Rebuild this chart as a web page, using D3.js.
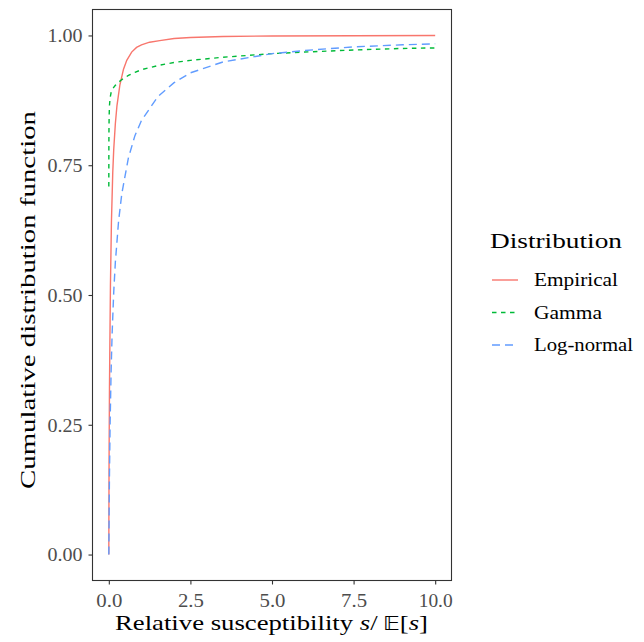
<!DOCTYPE html>
<html><head><meta charset="utf-8">
<script src="https://cdn.jsdelivr.net/npm/d3@7"></script>
<style>body{margin:0;background:#fff}svg{display:block}</style>
</head><body>
<script>
// ---- data ----
const seriesNames = ["Empirical", "Gamma", "Log-normal"];
const seriesColors = ["#F8766D", "#00BA38", "#619CFF"];
const seriesDash = [null, "4.5,4.5", "8,5"];

const empiricalS = [0, 0.002, 0.005, 0.01, 0.02, 0.03, 0.05, 0.08, 0.12, 0.15, 0.2, 0.25, 0.34, 0.45, 0.55, 0.7, 0.85, 1.0, 1.25, 1.56, 2.0, 2.5, 3.5, 5, 7.5, 10];
const empiricalF = [0, 0.06, 0.13, 0.21, 0.32, 0.39, 0.52, 0.64, 0.735, 0.78, 0.83, 0.865, 0.905, 0.935, 0.952, 0.968, 0.977, 0.982, 0.987, 0.990, 0.994, 0.996, 0.998, 0.999, 0.9995, 1.0];

const gammaS = [0, 0.002, 0.005, 0.01, 0.02, 0.04, 0.07, 0.1, 0.15, 0.2, 0.3, 0.4, 0.6, 0.8, 1.0, 1.5, 2, 2.5, 3.5, 5, 6, 7.5, 9, 10];
const gammaF = [0.709, 0.79, 0.82, 0.845, 0.865, 0.88, 0.89, 0.895, 0.9, 0.904, 0.91, 0.915, 0.923, 0.929, 0.934, 0.942, 0.948, 0.952, 0.958, 0.965, 0.968, 0.972, 0.975, 0.976];

const lognormS = [0, 0.001, 0.005, 0.01, 0.02, 0.04, 0.07, 0.1, 0.15, 0.2, 0.3, 0.4, 0.6, 0.8, 1.0, 1.5, 2, 2.5, 3.5, 5, 6, 7.5, 9, 10];
const lognormF = [0, 0.006, 0.042, 0.085, 0.155, 0.254, 0.353, 0.423, 0.505, 0.563, 0.643, 0.696, 0.764, 0.807, 0.836, 0.882, 0.909, 0.928, 0.949, 0.965, 0.971, 0.978, 0.982, 0.984];

const xTicks = [0, 2.5, 5, 7.5, 10];
const yTicks = [0, 0.25, 0.5, 0.75, 1];

// ---- layout ----
const W = 644, H = 642;
const panel = {left: 92.5, right: 451.5, top: 9.5, bottom: 580.5};
const FONT = "'Liberation Serif', 'DejaVu Serif', serif";

const svg = d3.select("body").append("svg").attr("width", W).attr("height", H);

const x = d3.scaleLinear().domain([-0.5, 10.5]).range([panel.left, panel.right]);
const y = d3.scaleLinear().domain([-0.05, 1.05]).range([panel.bottom, panel.top]);

const series = [
  {s: empiricalS, f: empiricalF},
  {s: gammaS, f: gammaF},
  {s: lognormS, f: lognormF}
];

const line = d3.line().x(d => x(d[0])).y(d => y(d[1]));

series.forEach((ser, i) => {
  const pts = ser.s.map((v, j) => [v, ser.f[j]]);
  svg.append("path").datum(pts)
    .attr("d", line)
    .attr("fill", "none")
    .attr("stroke", seriesColors[i])
    .attr("stroke-width", 1.4)
    .attr("stroke-dasharray", seriesDash[i]);
});

// panel border
svg.append("rect")
  .attr("x", panel.left).attr("y", panel.top)
  .attr("width", panel.right - panel.left).attr("height", panel.bottom - panel.top)
  .attr("fill", "none").attr("stroke", "#333333").attr("stroke-width", 1.1);

function fitWidth(sel, w) {
  sel.attr("textLength", w).attr("lengthAdjust", "spacingAndGlyphs");
}

// axes
const xAxis = d3.axisBottom(x).tickValues(xTicks).tickFormat(d3.format(".1f")).tickSize(4).tickPadding(4);
const gx = svg.append("g").attr("transform", `translate(0,${panel.bottom})`).call(xAxis);
const yAxis = d3.axisLeft(y).tickValues(yTicks).tickFormat(d3.format(".2f")).tickSize(4).tickPadding(6);
const gy = svg.append("g").attr("transform", `translate(${panel.left},0)`).call(yAxis);
[gx, gy].forEach(g => {
  g.select(".domain").remove();
  g.selectAll(".tick line").attr("stroke", "#333333").attr("stroke-width", 1.1);
  g.selectAll(".tick text").attr("fill", "#4D4D4D").attr("font-family", FONT).attr("font-size", 18);
});
gx.selectAll(".tick text").attr("dy", "1.03em").each(function() {
  const t = d3.select(this);
  fitWidth(t, t.text().length === 3 ? 26 : 34);
});
gy.selectAll(".tick text").attr("dy", "0.35em").call(fitWidth, 35);

// x axis title
const xt = svg.append("text").attr("x", 271.5).attr("y", 630)
  .attr("text-anchor", "middle").attr("font-family", FONT).attr("font-size", 22).attr("fill", "#000");
xt.append("tspan").text("Relative susceptibility ");
xt.append("tspan").attr("font-style", "italic").text("s");
xt.append("tspan").text("/\u2009");
xt.append("tspan").attr("font-family", "'DejaVu Sans', sans-serif").attr("font-size", 19).text("\uD835\uDD3C");
xt.append("tspan").text("[");
xt.append("tspan").attr("font-style", "italic").text("s");
xt.append("tspan").text("]");
fitWidth(xt, 313);

// y axis title
svg.append("text").attr("transform", "translate(35,300) rotate(-90)")
  .attr("text-anchor", "middle").attr("font-family", FONT).attr("font-size", 22).attr("fill", "#000")
  .text("Cumulative distribution function")
  .call(fitWidth, 378);

// legend
svg.append("text").attr("x", 490).attr("y", 248).attr("font-family", FONT).attr("font-size", 22)
  .attr("fill", "#000").text("Distribution").call(fitWidth, 132);
const legY = [280, 312.5, 345];
const legW = [84, 68, 99];
seriesNames.forEach((n, i) => {
  svg.append("line").attr("x1", 492).attr("x2", 518).attr("y1", legY[i]).attr("y2", legY[i])
    .attr("stroke", seriesColors[i]).attr("stroke-width", 1.4).attr("stroke-dasharray", seriesDash[i]);
  svg.append("text").attr("x", 534).attr("y", legY[i] + 6).attr("font-family", FONT).attr("font-size", 18)
    .attr("fill", "#000").text(n).call(fitWidth, legW[i]);
});
</script>
</body></html>
